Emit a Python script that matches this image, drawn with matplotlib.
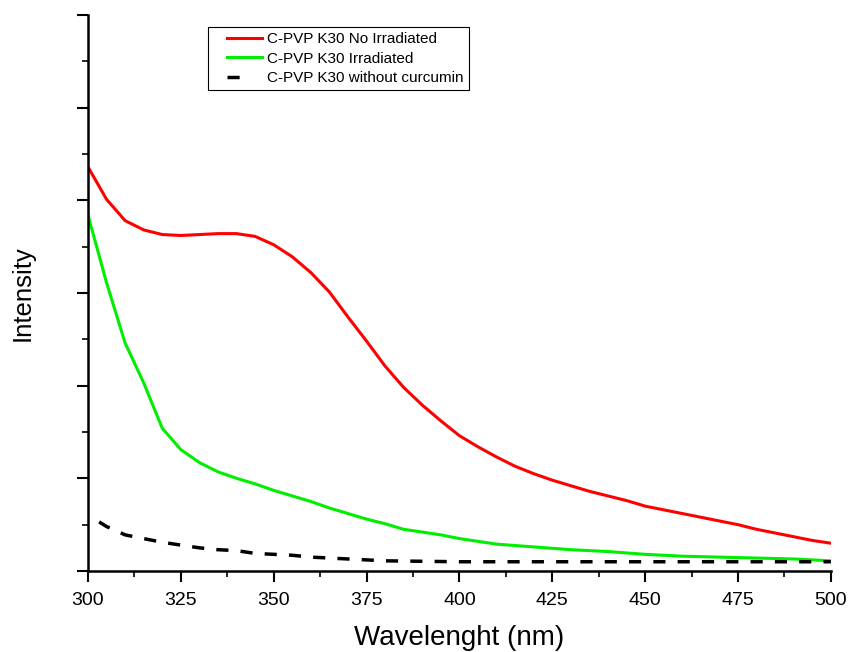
import numpy as np
import matplotlib
matplotlib.use("Agg")
import matplotlib.pyplot as plt
from matplotlib.ticker import MultipleLocator, NullFormatter

plt.rcParams['font.family'] = ['Liberation Sans', 'DejaVu Sans']

# (intensity in arbitrary units)
wl_red = [300, 305, 310, 315, 320, 325, 330, 335, 340, 345, 350, 355, 360, 365, 370,
          375, 380, 385, 390, 395, 400, 405, 410, 415, 420, 425, 430, 435, 440, 445,
          450, 455, 460, 465, 470, 475, 480, 485, 490, 495, 500]
no_irradiated = [4.36, 4.01, 3.78, 3.68, 3.63, 3.62, 3.63, 3.64, 3.64, 3.61, 3.52, 3.39,
                 3.22, 3.01, 2.74, 2.48, 2.21, 1.98, 1.79, 1.62, 1.46, 1.34, 1.23, 1.13,
                 1.05, 0.98, 0.92, 0.86, 0.81, 0.76, 0.70, 0.66, 0.62, 0.58, 0.54, 0.50,
                 0.45, 0.41, 0.37, 0.33, 0.30]

wl_green = [300, 305, 310, 315, 320, 325, 330, 335, 340, 345, 350, 355, 360, 365, 370,
            375, 380, 385, 390, 395, 400, 410, 420, 430, 440, 450, 460, 470, 480, 490, 500]
irradiated = [3.84, 3.11, 2.46, 2.03, 1.54, 1.31, 1.17, 1.07, 1.00, 0.94, 0.87, 0.81,
              0.75, 0.68, 0.62, 0.56, 0.51, 0.45, 0.42, 0.39, 0.35, 0.29, 0.26, 0.23,
              0.21, 0.18, 0.16, 0.15, 0.14, 0.13, 0.11]

wl_black = [303, 305, 310, 315, 320, 325, 330, 335, 340, 345, 350, 355, 360, 365, 370,
            375, 380, 400, 425, 450, 475, 500]
without_curcumin = [0.53, 0.48, 0.39, 0.35, 0.31, 0.28, 0.25, 0.23, 0.22, 0.19, 0.18,
                    0.17, 0.15, 0.14, 0.13, 0.12, 0.11, 0.10, 0.10, 0.10, 0.10, 0.10]

fig = plt.figure(figsize=(8.5, 6.52), dpi=100)
ax = fig.add_axes([0.1035, 0.1242, 0.874, 0.853])

ax.plot(wl_red, no_irradiated, color='#ff0000', lw=2.2, label='C-PVP K30 No Irradiated')
ax.plot(wl_green, irradiated, color='#00ee00', lw=2.2, label='C-PVP K30 Irradiated')
ax.plot(wl_black, without_curcumin, color='black', lw=2.5, ls=(0, (3.5, 3.5)),
        label='C-PVP K30 without curcumin')

ax.set_xlim(300, 500)
ax.set_ylim(0, 6)
ax.xaxis.set_major_locator(MultipleLocator(25))
ax.xaxis.set_minor_locator(MultipleLocator(12.5))
ax.yaxis.set_major_locator(MultipleLocator(1))
ax.yaxis.set_minor_locator(MultipleLocator(0.5))
ax.yaxis.set_major_formatter(NullFormatter())

for s in ['top', 'right']:
    ax.spines[s].set_visible(False)
for s in ['left', 'bottom']:
    ax.spines[s].set_linewidth(1.8)

ax.tick_params(which='major', direction='out', length=8, width=1.5, labelsize=14, pad=7)
ax.tick_params(which='minor', direction='out', length=4.5, width=1.2)

# the reference clips this label at the bottom edge; keep it just inside
ax.set_xlabel('Wavelenght (nm)', fontsize=20, va='bottom')
ax.xaxis.set_label_coords(0.5, -0.1435)
ax.set_ylabel('Intensity', fontsize=18.5)
ax.yaxis.set_label_coords(-0.072, 0.5)

leg = ax.legend(loc='upper left', bbox_to_anchor=(0.1615, 0.978), borderaxespad=0,
                fontsize=11, fancybox=False, framealpha=1, edgecolor='black',
                handlelength=3.2, borderpad=0.35, labelspacing=0.35, handletextpad=0.3)
leg.get_frame().set_linewidth(0.8)

# the legend lines start a little in from the frame, the dashed one is a short stub
for i, line in enumerate(leg.get_lines()):
    x = np.asarray(line.get_xdata(), dtype=float)
    y = np.asarray(line.get_ydata(), dtype=float)
    x0 = x[0] + 10
    x1 = x[-1] if i < 2 else x0 + 9
    line.set_data([x0, x1], [y[0], y[0]])

fig.savefig('out.png', dpi=100)
